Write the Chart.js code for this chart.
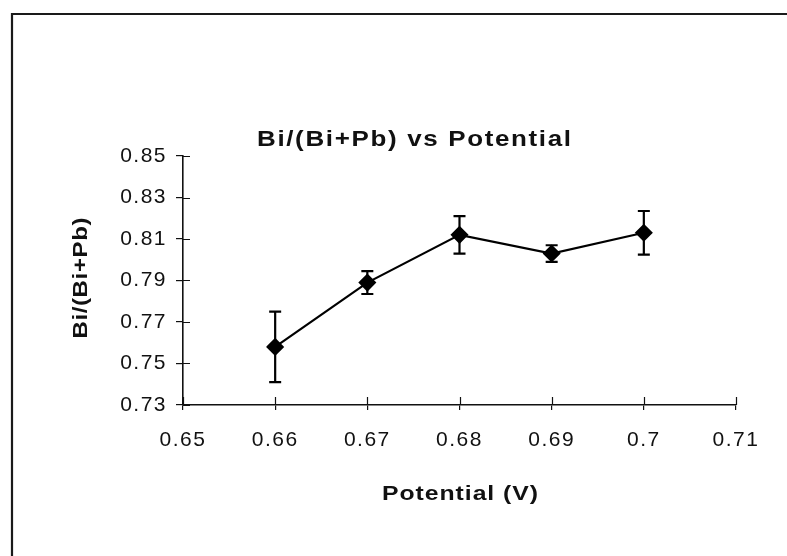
<!DOCTYPE html>
<html>
<head>
<meta charset="utf-8">
<title>Bi/(Bi+Pb) vs Potential</title>
<script src="https://cdn.jsdelivr.net/npm/chart.js@4.4.1/dist/chart.umd.min.js"></script>
<style>
    html, body { margin: 0; padding: 0; background: #fff; }
    #wrap { width: 787px; height: 556px; }
</style>
</head>
<body>
<div id="wrap"><canvas id="chartPotential" width="787" height="556"></canvas></div>
<script>
// Data
const potentials = [0.66, 0.67, 0.68, 0.69, 0.70];
const ratios = [0.758, 0.789, 0.812, 0.803, 0.813];
const errors = [0.017, 0.0055, 0.009, 0.004, 0.0105];

const xTickValues = [0.65, 0.66, 0.67, 0.68, 0.69, 0.70, 0.71];
const yTickValues = [0.73, 0.75, 0.77, 0.79, 0.81, 0.83, 0.85];

const TITLE = 'Bi/(Bi+Pb) vs Potential';
const X_TITLE = 'Potential (V)';
const Y_TITLE = 'Bi/(Bi+Pb)';

/**
 * Text stretched sideways, the scan is wider than the original fonts
 */
function drawStretched(ctx, text, x, y, sx, spacing, rotate) {
    ctx.save();
    ctx.translate(x, y);
    if (rotate) ctx.rotate(-Math.PI / 2);
    ctx.scale(sx, 1);
    ctx.letterSpacing = spacing + 'px';
    ctx.textAlign = 'center';
    ctx.fillText(text, spacing / 2, 0);
    ctx.restore();
}

/**
 * Frame, titles and letter spacing for the tick labels
 */
const framePlugin = {
    id: 'frame',
    beforeDraw(chart) {
        const ctx = chart.ctx;
        ctx.save();
        ctx.fillStyle = '#fff';
        ctx.fillRect(0, 0, chart.width, chart.height);

        // only left and top edges of the box are in the scan
        ctx.strokeStyle = '#1a1a1a';
        ctx.lineWidth = 2.2;
        ctx.beginPath();
        ctx.moveTo(12, chart.height);
        ctx.lineTo(12, 14);
        ctx.lineTo(chart.width, 14);
        ctx.stroke();

        ctx.fillStyle = '#111';
        ctx.textBaseline = 'alphabetic';
        ctx.font = 'bold 22px "Liberation Sans", Arial, sans-serif';
        drawStretched(ctx, TITLE, 414, 146, 1.18, 1.4, false);

        ctx.font = 'bold 21px "Liberation Sans", Arial, sans-serif';
        drawStretched(ctx, X_TITLE, 460, 500, 1.18, 0.8, false);

        ctx.textBaseline = 'middle';
        drawStretched(ctx, Y_TITLE, 81, 278, 1.15, 0.5, true);
        ctx.restore();

        chart.ctx.letterSpacing = '1.5px';
    },
    afterDraw(chart) {
        chart.ctx.letterSpacing = '0px';
    }
};

/**
 * Error bars, drawn through the scales before the line and markers
 */
const errorBarPlugin = {
    id: 'errorBars',
    beforeDatasetsDraw(chart) {
        const ctx = chart.ctx;
        const xs = chart.scales.x;
        const ys = chart.scales.y;
        ctx.save();
        ctx.strokeStyle = '#000';
        ctx.lineWidth = 2.2;
        potentials.forEach((p, i) => {
            const px = xs.getPixelForValue(p);
            const top = ys.getPixelForValue(ratios[i] + errors[i]);
            const bottom = ys.getPixelForValue(ratios[i] - errors[i]);
            ctx.beginPath();
            ctx.moveTo(px, top);
            ctx.lineTo(px, bottom);
            ctx.moveTo(px - 6, top);
            ctx.lineTo(px + 6, top);
            ctx.moveTo(px - 6, bottom);
            ctx.lineTo(px + 6, bottom);
            ctx.stroke();
        });
        ctx.restore();
    }
};

/**
 * Ticks cross the axis, Chart.js only draws the outer half
 */
const crossTickPlugin = {
    id: 'crossTicks',
    afterDraw(chart) {
        const ctx = chart.ctx;
        const xs = chart.scales.x;
        const ys = chart.scales.y;
        const area = chart.chartArea;
        ctx.save();
        ctx.strokeStyle = '#111';
        ctx.lineWidth = 1.2;
        ctx.beginPath();
        xTickValues.forEach(v => {
            const px = Math.round(xs.getPixelForValue(v)) + 0.5;
            ctx.moveTo(px, area.bottom);
            ctx.lineTo(px, area.bottom - 8);
        });
        yTickValues.forEach(v => {
            const py = Math.round(ys.getPixelForValue(v)) + 0.5;
            ctx.moveTo(area.left, py);
            ctx.lineTo(area.left + 7, py);
        });
        ctx.stroke();
        ctx.restore();
    }
};

const tickFont = { family: '"Liberation Sans", Arial, sans-serif', size: 21 };

new Chart(document.getElementById('chartPotential').getContext('2d'), {
    type: 'line',
    data: {
        datasets: [{
            label: Y_TITLE,
            data: potentials.map((p, i) => ({ x: p, y: ratios[i] })),
            borderColor: '#000',
            borderWidth: 2.2,
            backgroundColor: '#000',
            pointStyle: 'rectRot',
            pointRadius: 7.5,
            pointBackgroundColor: '#000',
            pointBorderColor: '#000',
            tension: 0
        }]
    },
    options: {
        responsive: false,
        animation: false,
        layout: { padding: { top: 156, right: 51, left: 0, bottom: 0 } },
        plugins: {
            legend: { display: false },
            title: { display: false },
            tooltip: { enabled: false }
        },
        scales: {
            x: {
                type: 'linear',
                min: 0.65,
                max: 0.71,
                afterBuildTicks: scale => { scale.ticks = xTickValues.map(v => ({ value: v })); },
                afterFit: scale => { scale.height = 151; },
                grid: { drawOnChartArea: false, drawTicks: true, tickLength: 5, color: '#111', lineWidth: 1.2 },
                border: { display: true, color: '#111', width: 1.6 },
                ticks: {
                    color: '#111',
                    font: tickFont,
                    padding: 18,
                    maxRotation: 0,
                    callback: v => String(+v.toFixed(2))
                }
            },
            y: {
                min: 0.73,
                max: 0.85,
                afterBuildTicks: scale => { scale.ticks = yTickValues.map(v => ({ value: v })); },
                afterFit: scale => { scale.width = 183; },
                grid: { drawOnChartArea: false, drawTicks: true, tickLength: 7, color: '#111', lineWidth: 1.2 },
                border: { display: true, color: '#111', width: 1.6 },
                ticks: {
                    color: '#111',
                    font: tickFont,
                    padding: 9,
                    callback: v => v.toFixed(2)
                }
            }
        }
    },
    plugins: [framePlugin, errorBarPlugin, crossTickPlugin]
});
</script>
</body>
</html>
